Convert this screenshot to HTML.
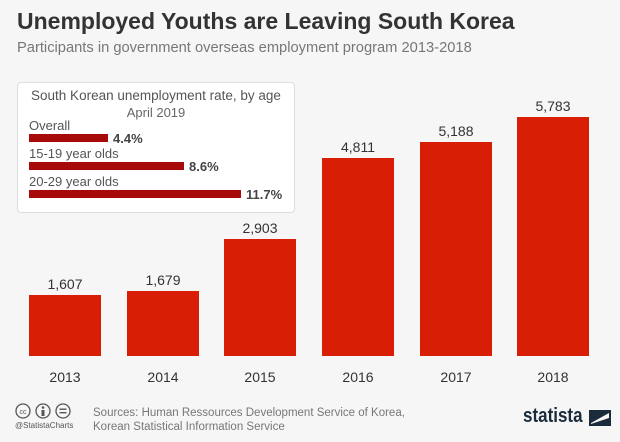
<!DOCTYPE html>
<html><head><style>
body{margin:0;width:620px;height:442px;background:#f6f6f6;font-family:"Liberation Sans",sans-serif;position:relative;overflow:hidden}
.a{position:absolute}
.bar{position:absolute;background:#d81e05;width:72px}
.v{position:absolute;width:72px;text-align:center;font-size:14px;color:#333}
.y{position:absolute;width:72px;text-align:center;font-size:14px;color:#333;top:369px}
.ib{position:absolute;left:29px;height:8px;background:#a80a0a}
.il{position:absolute;left:29px;font-size:13px;color:#555}
.iv{position:absolute;font-size:13px;font-weight:bold;color:#444}
</style></head><body>
<div class="a" style="left:17px;top:8px;font-size:23px;font-weight:bold;color:#333">Unemployed Youths are Leaving South Korea</div>
<div class="a" style="left:17px;top:40px;font-size:14.7px;color:#777">Participants in government overseas employment program 2013-2018</div>

<div class="bar" style="left:29px;top:295px;height:61px"></div>
<div class="bar" style="left:127px;top:291px;height:65px"></div>
<div class="bar" style="left:224px;top:239px;height:117px"></div>
<div class="bar" style="left:322px;top:158px;height:198px"></div>
<div class="bar" style="left:420px;top:142px;height:214px"></div>
<div class="bar" style="left:517px;top:117px;height:239px"></div>
<div class="v" style="left:29px;top:276px">1,607</div>
<div class="v" style="left:127px;top:272px">1,679</div>
<div class="v" style="left:224px;top:220px">2,903</div>
<div class="v" style="left:322px;top:139px">4,811</div>
<div class="v" style="left:420px;top:123px">5,188</div>
<div class="v" style="left:517px;top:98px">5,783</div>
<div class="y" style="left:29px">2013</div>
<div class="y" style="left:127px">2014</div>
<div class="y" style="left:224px">2015</div>
<div class="y" style="left:322px">2016</div>
<div class="y" style="left:420px">2017</div>
<div class="y" style="left:517px">2018</div>

<div class="a" style="left:17px;top:82px;width:276px;height:129px;background:#fff;border:1px solid #ddd;border-radius:4px"></div>
<div class="a" style="left:17px;top:88px;width:278px;text-align:center;font-size:13.5px;color:#555">South Korean unemployment rate, by age</div>
<div class="a" style="left:17px;top:105px;width:278px;text-align:center;font-size:13px;color:#666">April 2019</div>
<div class="il" style="top:118px">Overall</div>
<div class="ib" style="top:134px;width:79px"></div>
<div class="iv" style="left:113px;top:131px">4.4%</div>
<div class="il" style="top:146px">15-19 year olds</div>
<div class="ib" style="top:162px;width:155px"></div>
<div class="iv" style="left:189px;top:159px">8.6%</div>
<div class="il" style="top:174px">20-29 year olds</div>
<div class="ib" style="top:190px;width:212px"></div>
<div class="iv" style="left:246px;top:187px">11.7%</div>

<svg class="a" style="left:15px;top:403px" width="62" height="18">
<g fill="none" stroke="#555" stroke-width="1.3"><circle cx="8" cy="8" r="7"/><circle cx="28" cy="8" r="7"/><circle cx="48" cy="8" r="7"/></g>
<text x="8" y="11" font-size="7" text-anchor="middle" fill="#555" font-family="Liberation Sans">cc</text>
<rect x="26.5" y="7" width="3" height="6" fill="#555"/><circle cx="28" cy="4.5" r="1.3" fill="#555"/>
<rect x="44.5" y="5.5" width="7" height="1.4" fill="#555"/><rect x="44.5" y="9" width="7" height="1.4" fill="#555"/>
</svg>
<div class="a" style="left:15px;top:421px;font-size:8px;color:#555">@StatistaCharts</div>
<div class="a" style="left:93px;top:406px;font-size:11.5px;color:#777;line-height:14px">Sources: Human Ressources Development Service of Korea,<br>Korean Statistical Information Service</div>
<div class="a" style="left:523px;top:405px;font-size:20px;font-weight:bold;color:#1a2b3c;transform:scaleX(.85);transform-origin:left">statista</div>
<svg class="a" style="left:589px;top:410px" width="22" height="16"><rect width="22" height="16" fill="#1a2b3c"/><path d="M2 13 L20 3 L20 8 L2 14Z" fill="#f6f6f6"/></svg>
</body></html>
